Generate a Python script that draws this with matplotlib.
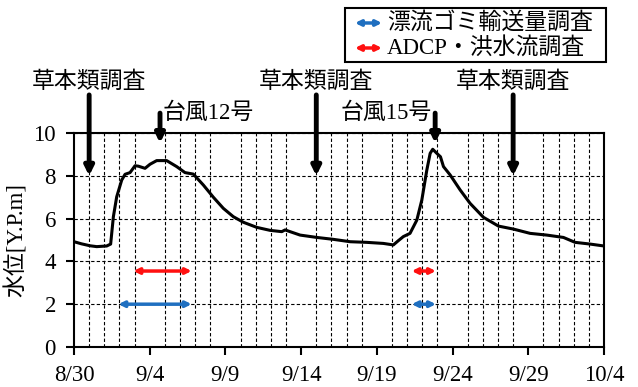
import matplotlib
matplotlib.use("Agg")
import matplotlib.pyplot as plt
from matplotlib.patches import Rectangle
from matplotlib.text import Annotation

plt.rcParams["font.family"] = ["Liberation Serif", "Noto Sans CJK JP"]
plt.rcParams["font.size"] = 16.5

# 水位データ（8/30 からの経過日数, Y.P.m）
day = [0, 0.5, 1.06, 1.5, 2.16, 2.42, 2.6, 2.82, 3.15, 3.37, 3.7, 4.03, 4.25,
       4.69, 5.02, 5.46, 6.12, 6.78, 7.33, 7.88, 8.54, 9.2, 9.86, 10.52, 11.18,
       12.07, 12.95, 13.72, 13.94, 14.93, 16.03, 17.13, 18.23, 19.33, 20.43,
       21.09, 21.42, 21.75, 22.19, 22.64, 22.97, 23.3, 23.52, 23.69, 23.96,
       24.2, 24.4, 24.84, 25.5, 26.16, 27.04, 28.03, 29.02, 30.12, 31.22,
       32.32, 33.09, 34.08, 35.0]
level = [4.92, 4.82, 4.73, 4.69, 4.72, 4.81, 6.09, 7.02, 7.8, 8.07, 8.15,
         8.47, 8.45, 8.35, 8.54, 8.71, 8.71, 8.43, 8.15, 8.08, 7.57, 7.0, 6.48,
         6.09, 5.83, 5.59, 5.45, 5.39, 5.47, 5.23, 5.12, 5.03, 4.92, 4.89,
         4.84, 4.77, 4.97, 5.16, 5.31, 5.93, 6.87, 8.27, 9.05, 9.24, 9.05,
         8.89, 8.43, 8.04, 7.34, 6.71, 6.06, 5.65, 5.51, 5.31, 5.23, 5.12,
         4.89, 4.81, 4.72]

tick_days = [0, 5, 10, 15, 20, 25, 30, 35]
tick_labels = ["8/30", "9/4", "9/9", "9/14", "9/19", "9/24", "9/29", "10/4"]

survey_days = [1, 16, 29]          # 草本類調査
typhoon_days = [5.68, 23.85]       # 台風12号, 台風15号
typhoon_names = ["台風12号", "台風15号"]

# 調査期間（開始日, 終了日）
debris_periods = [(2.93, 7.77), (22.3, 23.9)]   # 漂流ゴミ輸送量調査
adcp_periods = [(3.92, 7.77), (22.3, 23.9)]     # ADCP・洪水流調査
debris_level = 2.0
adcp_level = 3.55

BLUE = "#1f6fc0"
RED = "#ff1010"

fig = plt.figure(figsize=(6.38, 3.87), dpi=100)
ax = fig.add_axes([0.116, 0.1034, 0.8307, 0.5529])

ax.plot(day, level, color="black", lw=2.2, zorder=3)

ax.set_xlim(0, 35)
ax.set_ylim(0, 10)
ax.set_xticks(tick_days)
ax.set_xticklabels(tick_labels)
ax.set_xticks(range(0, 36), minor=True)
ax.set_yticks(range(0, 11, 2))
ax.tick_params(which="major", direction="out", length=6, width=1.5, pad=7)
ax.tick_params(which="minor", length=0)
ax.grid(which="minor", axis="x", color="black", ls=(0, (3, 2)), lw=0.8)
ax.grid(which="major", axis="y", color="black", ls=(0, (3, 2)), lw=0.8)
for s in ax.spines.values():
    s.set_linewidth(1.5)
ax.set_ylabel("水位[Y.P.m]", labelpad=4)

# 調査期間の両矢印
for periods, y, c in [(debris_periods, debris_level, BLUE),
                      (adcp_periods, adcp_level, RED)]:
    for d0, d1 in periods:
        ax.annotate("", xy=(d1, y), xytext=(d0, y),
                    arrowprops=dict(arrowstyle="<|-|>", color=c, lw=2.5,
                                    mutation_scale=8, shrinkA=0, shrinkB=0))

# 草本類調査
for d in survey_days:
    ax.annotate("", xy=(d, 8.0), xytext=(d, 11.78),
                arrowprops=dict(arrowstyle="-|>", color="black", lw=3.5,
                                mutation_scale=13, shrinkA=0, shrinkB=0),
                annotation_clip=False)
    ax.text(d, 12.38, "草本類調査", ha="center", va="center", clip_on=False)

# 台風
for i, (d, name) in enumerate(zip(typhoon_days, typhoon_names)):
    ax.annotate("", xy=(d, 9.53), xytext=(d, 10.93),
                arrowprops=dict(arrowstyle="-|>", color="black", lw=3.5,
                                mutation_scale=13, shrinkA=0, shrinkB=0),
                annotation_clip=False)
    if i == 0:
        ax.text(d + 0.15, 10.93, name, ha="left", va="center", clip_on=False)
    else:
        ax.text(d - 0.2, 10.93, name, ha="right", va="center", clip_on=False)

# 凡例
fig.patches.append(Rectangle((0.5408, 0.8398), 0.409, 0.1395,
                             transform=fig.transFigure, fill=False,
                             edgecolor="black", lw=1.5))
for y, c, label in [(0.9406, BLUE, "漂流ゴミ輸送量調査"),
                    (0.876, RED, "ADCP・洪水流調査")]:
    fig.add_artist(Annotation(
        "", xy=(0.5987, y), xytext=(0.5564, y),
        xycoords="figure fraction", textcoords="figure fraction",
        arrowprops=dict(arrowstyle="<|-|>", color=c, lw=2.5,
                        mutation_scale=8, shrinkA=0, shrinkB=0)))
    fig.text(0.6066, y, label, ha="left", va="center")

fig.savefig("out.png", dpi=100)
